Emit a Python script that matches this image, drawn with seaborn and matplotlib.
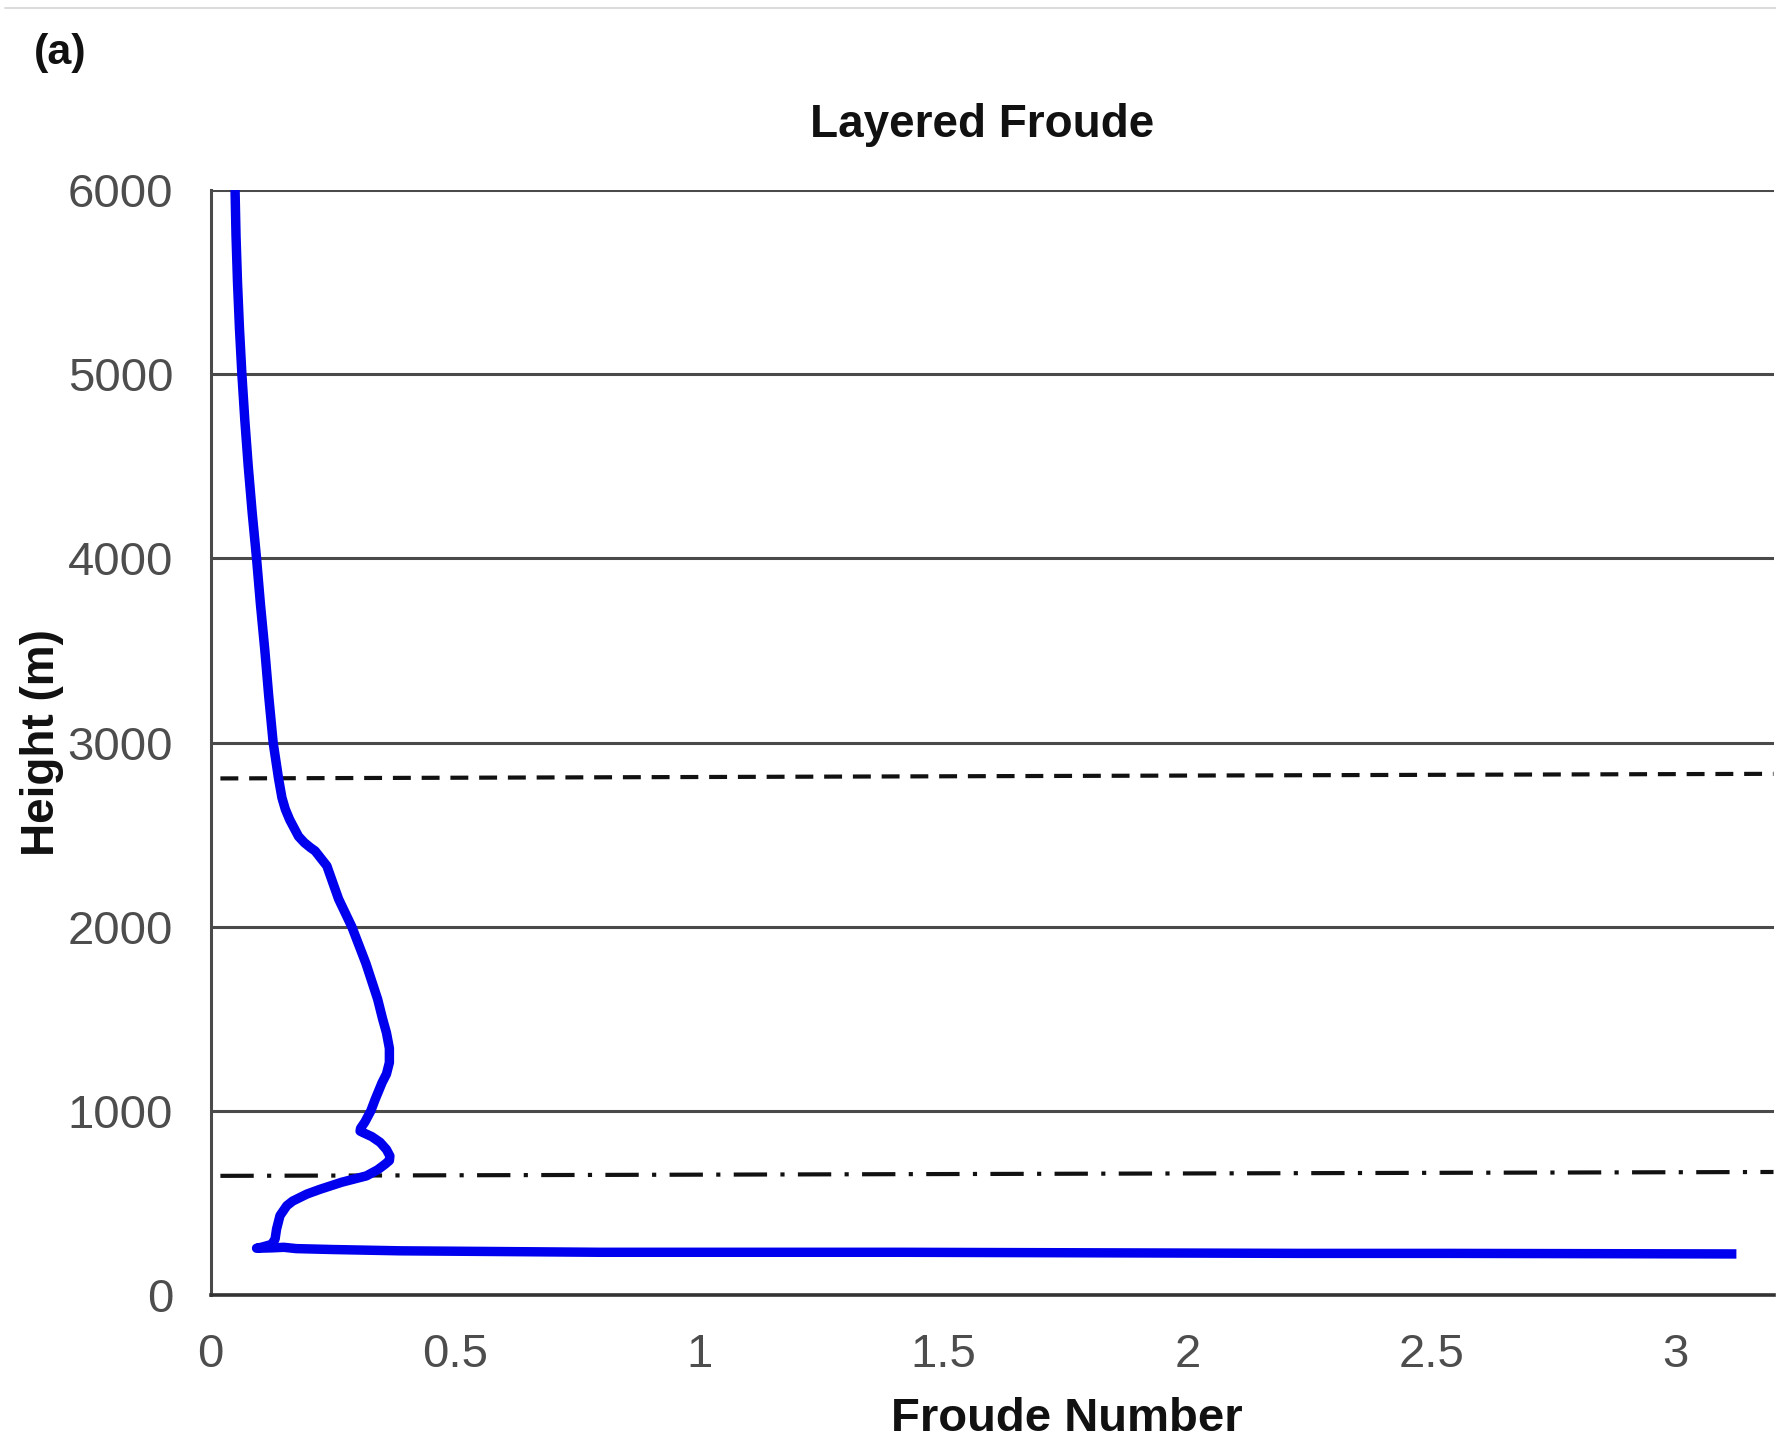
import matplotlib
matplotlib.use("Agg")
import matplotlib.pyplot as plt
import seaborn as sns
import pandas as pd
from matplotlib.lines import Line2D

# ---- data ----
height_m = [6000, 5750, 5500, 5250, 5000, 4750, 4500, 4250, 4000, 3750, 3500, 3250,
            3000, 2805, 2700, 2637, 2580, 2540, 2490, 2456, 2430, 2411,
            2330, 2150, 2000, 1800, 1606, 1500, 1424, 1340, 1262, 1200, 1153, 1063, 1000, 940, 905, 890, 882, 860, 829,
            790, 755, 730, 710, 680, 647, 612, 574, 548, 510, 485, 431, 358, 304, 275, 260, 254, 256,
            259, 252, 247, 240, 232, 232, 226, 226, 223]
froude = [0.050, 0.052, 0.055, 0.059, 0.064, 0.070, 0.077, 0.085, 0.094, 0.102, 0.111, 0.119,
          0.128, 0.139, 0.146, 0.153, 0.162, 0.170, 0.180, 0.192, 0.204, 0.214,
          0.238, 0.262, 0.289, 0.318, 0.342, 0.352, 0.360, 0.366, 0.366, 0.360, 0.351, 0.337, 0.328, 0.316, 0.307, 0.306, 0.312, 0.330, 0.347,
          0.360, 0.367, 0.366, 0.357, 0.342, 0.319, 0.268, 0.224, 0.197, 0.168, 0.156, 0.142, 0.135, 0.132, 0.125, 0.105, 0.094, 0.125,
          0.150, 0.175, 0.250, 0.387, 0.797, 1.411, 2.230, 2.537, 3.124]

ref_x = [0.02, 3.2]
dashed_h = [2805, 2830]
dashdot_h = [647, 668]

y_ticks = [0, 1000, 2000, 3000, 4000, 5000, 6000]
x_ticks = [0, 0.5, 1, 1.5, 2, 2.5, 3]
x_tick_labels = ["0", "0.5", "1", "1.5", "2", "2.5", "3"]

title = "Layered Froude"
x_label = "Froude Number"
y_label = "Height (m)"
panel_label = "(a)"

profile = pd.DataFrame({"Froude": froude, "Height": height_m})
dashed = pd.DataFrame({"x": ref_x, "h": dashed_h})
dashdot = pd.DataFrame({"x": ref_x, "h": dashdot_h})

# ---- style ----
sns.set_theme(style="white")
plt.rcParams["font.family"] = ["Liberation Sans", "DejaVu Sans"]

fig = plt.figure(figsize=(17.76, 14.45), dpi=100)
ax = fig.add_axes([0.1186, 0.1038, 0.880, 0.7647])

grid_color = "#4a4a4a"
ax.set_ylim(0, 6000)
ax.set_xlim(0, 3.2)
ax.set_yticks(y_ticks)
ax.set_xticks(x_ticks)
ax.set_xticklabels(x_tick_labels)
ax.yaxis.grid(True, color=grid_color, lw=2.2)
ax.xaxis.grid(False)
ax.set_axisbelow(True)

sns.lineplot(data=dashed, x="x", y="h", ax=ax, color="#111111", lw=3.0,
             estimator=None, sort=False)
ax.lines[-1].set_linestyle((0, (4.3, 2.6)))
sns.lineplot(data=dashdot, x="x", y="h", ax=ax, color="#111111", lw=3.0,
             estimator=None, sort=False)
ax.lines[-1].set_linestyle((0, (8, 3.2, 1.0, 3.2)))

sns.lineplot(data=profile, x="Froude", y="Height", ax=ax, color="#0000ee", lw=6.8,
             estimator=None, sort=False)
ax.lines[-1].set_solid_joinstyle("round")
ax.lines[-1].set_solid_capstyle("butt")

for side in ["top", "right"]:
    ax.spines[side].set_visible(False)
ax.spines["left"].set_color(grid_color)
ax.spines["left"].set_linewidth(2.2)
ax.spines["bottom"].set_color("#333333")
ax.spines["bottom"].set_linewidth(2.6)

ax.tick_params(axis="both", length=0, labelsize=34, labelcolor="#4d4d4d", pad=27)

ax.set_xlabel(x_label, fontsize=34, fontweight="bold", color="#111111")
ax.xaxis.set_label_coords(0.548, -0.092)
ax.set_ylabel(y_label, fontsize=33, fontweight="bold", color="#111111")
ax.yaxis.set_label_coords(-0.094, 0.5)
ax.set_title(title, fontsize=33, fontweight="bold", color="#111111",
             x=0.4935, y=1.0, pad=38)

fig.text(34 / 1776, 1 - 64 / 1445, panel_label, fontsize=31, fontweight="bold",
         color="#111111", ha="left", va="baseline")
fig.add_artist(Line2D([0.003, 1.0], [1 - 8 / 1445, 1 - 8 / 1445],
                      transform=fig.transFigure, color="#dcdcdc", lw=1.5))

fig.savefig("out.png", dpi=100, facecolor="white")
